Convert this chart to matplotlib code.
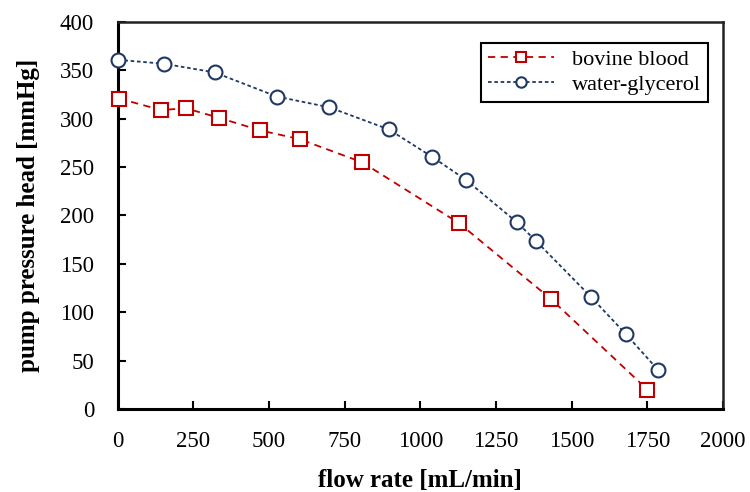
import matplotlib
matplotlib.use("Agg")
import matplotlib.pyplot as plt

# bovine blood
blood_flow = [4, 144, 224, 335, 471, 601, 808, 1128, 1430, 1750]
blood_head = [321, 309, 311, 301, 288, 279, 255, 192, 114, 20]

# water-glycerol
wg_flow = [1, 152, 320, 526, 698, 896, 1037, 1150, 1319, 1381, 1563, 1680, 1786]
wg_head = [361, 357, 348, 323, 312, 289, 261, 237, 193, 174, 116, 77, 40]

xticks = [0, 250, 500, 750, 1000, 1250, 1500, 1750, 2000]
yticks = [0, 50, 100, 150, 200, 250, 300, 350, 400]

plt.rcParams['font.family'] = ['Liberation Serif', 'DejaVu Serif']

fig = plt.figure(figsize=(7.5, 4.92), dpi=100)
ax = fig.add_axes([0.157, 0.169, 0.807, 0.786])

ax.plot(blood_flow, blood_head, color='#C00000', linestyle=(0, (4, 3)), linewidth=1.3,
        marker='s', markersize=9.5, markerfacecolor='white', markeredgecolor='#C00000',
        markeredgewidth=1.5, label='bovine blood', clip_on=False, zorder=3)
ax.plot(wg_flow, wg_head, color='#1F3864', linestyle=(0, (2, 1.5)), linewidth=1.3,
        marker='o', markersize=10, markerfacecolor='white', markeredgecolor='#1F3864',
        markeredgewidth=1.5, label='water-glycerol', clip_on=False, zorder=3)

ax.set_xlim(0, 2000)
ax.set_ylim(0, 400)
ax.set_xticks(xticks)
ax.set_yticks(yticks)
ax.tick_params(direction='in', length=6, width=1.5, labelsize=16.5)
ax.tick_params(axis='x', pad=16)
ax.tick_params(axis='y', pad=17)

for side in ['left', 'bottom']:
    ax.spines[side].set_linewidth(2.2)
for side in ['top', 'right']:
    ax.spines[side].set_linewidth(1.8)
    ax.spines[side].set_color('#222222')

ax.set_xlabel('flow rate [mL/min]', fontsize=18, fontweight='bold', labelpad=12)
ax.set_ylabel('pump pressure head [mmHg]', fontsize=18, fontweight='bold', labelpad=14)

leg = ax.legend(loc='upper right', bbox_to_anchor=(0.975, 0.946), borderaxespad=0,
                fontsize=16, fancybox=False, framealpha=1, edgecolor='black',
                handlelength=3, labelspacing=0.2, borderpad=0.3, markerscale=0.75)
leg.get_frame().set_linewidth(1.5)

fig.savefig('out.png', dpi=100)
